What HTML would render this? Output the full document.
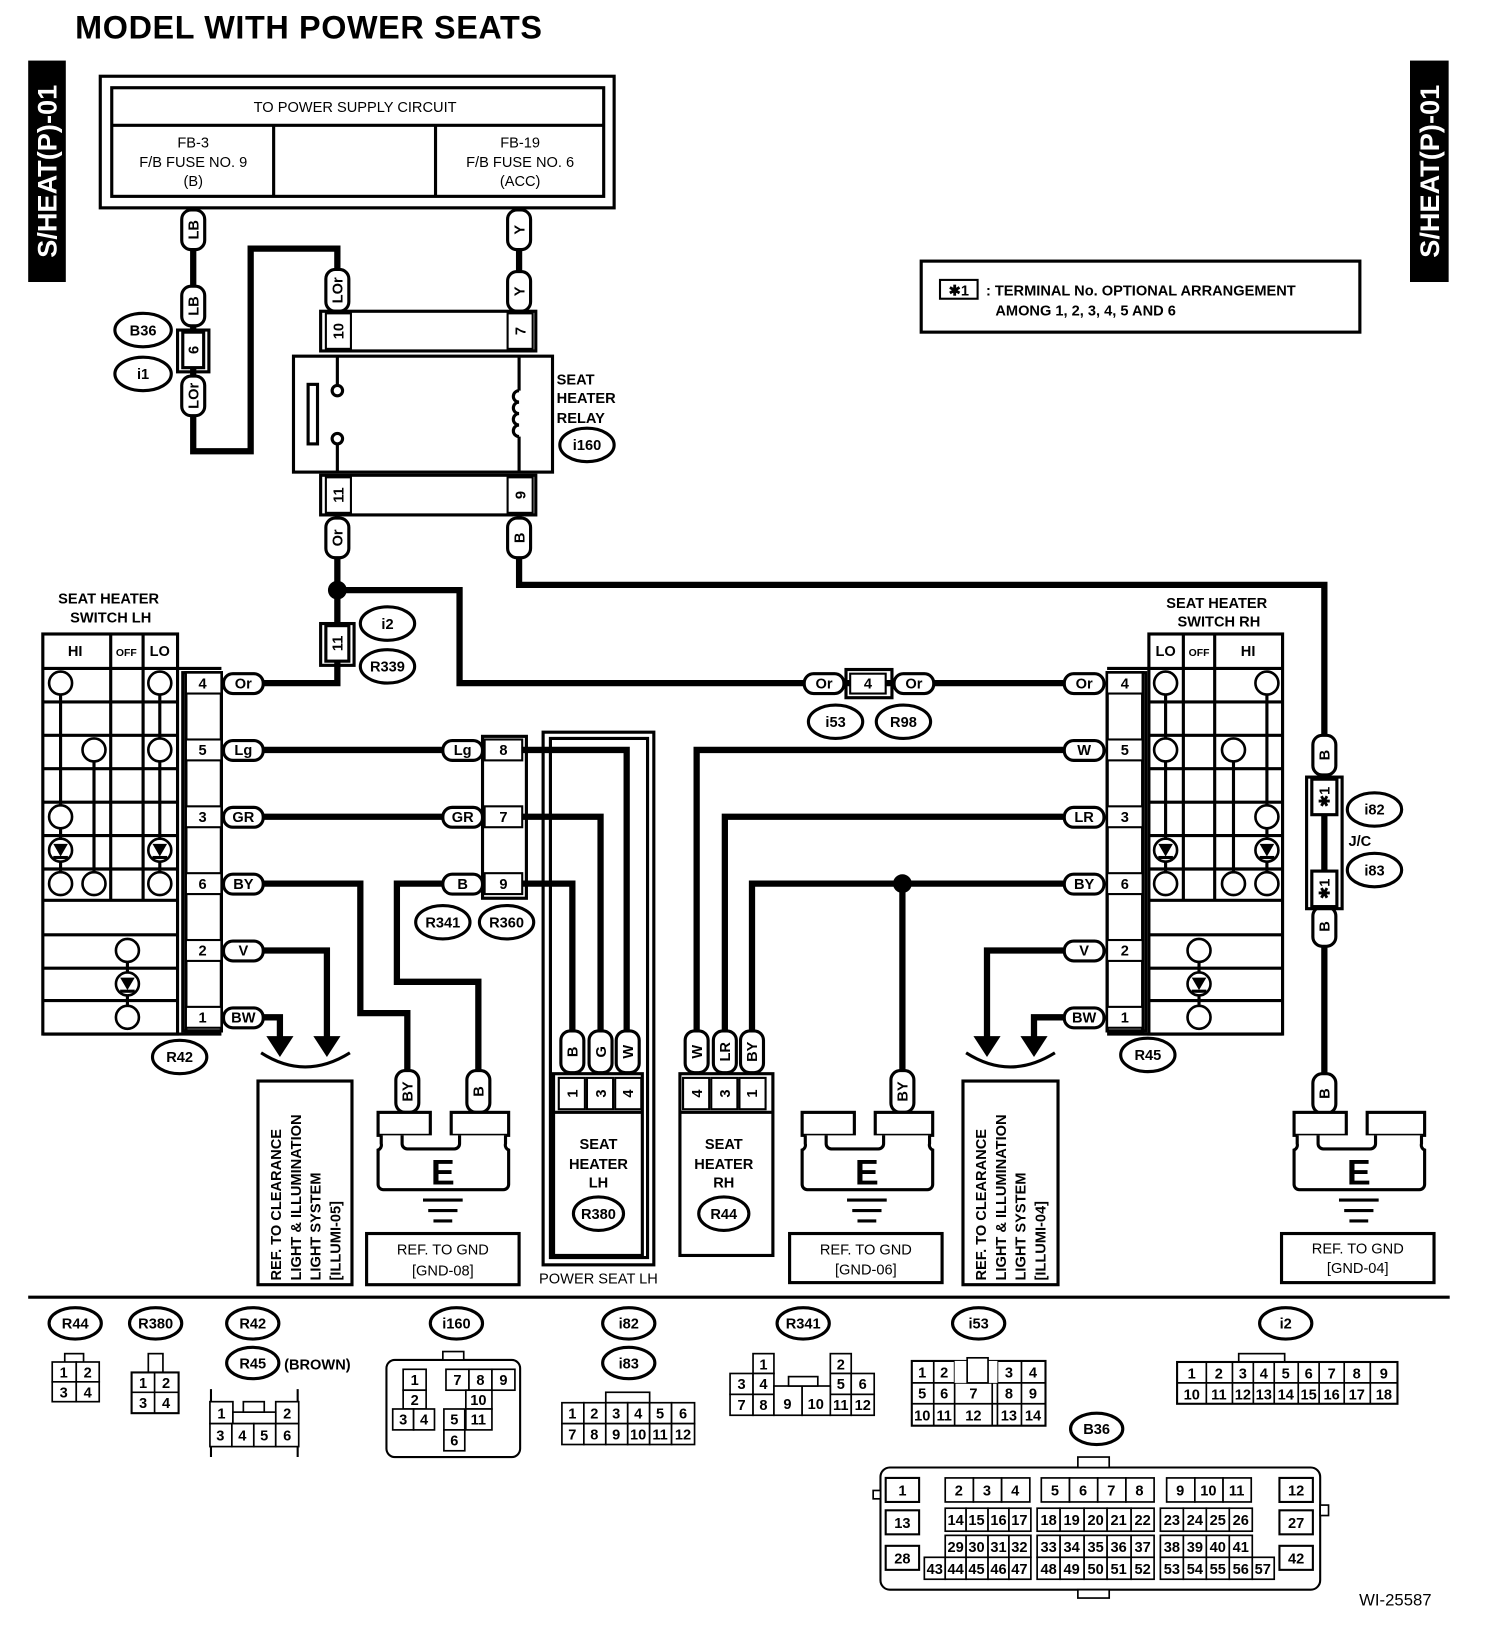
<!DOCTYPE html>
<html><head><meta charset="utf-8"><style>
html,body{margin:0;padding:0;background:#fff}
svg{display:block}
text{font-family:"Liberation Sans",sans-serif;font-weight:bold;font-size:14px;text-anchor:middle;fill:#000}
.n{font-weight:normal}
.s{font-size:13px;font-weight:normal}
.w{stroke:#000;stroke-width:6;fill:none}
.l{stroke:#000;stroke-width:3;fill:none}
.b{stroke:#000;stroke-width:3;fill:#fff}
.h{stroke:#000;stroke-width:2;fill:#fff}
.c{stroke:#000;stroke-width:1.6;fill:#fff}
</style></head><body>
<svg width="1504" height="1644" viewBox="0 0 1440 1574" preserveAspectRatio="none" xmlns="http://www.w3.org/2000/svg">
<rect width="1440" height="1574" fill="#fff"/>
<text x="72" y="37" style="font-size:31px;text-anchor:start;letter-spacing:0.6px">MODEL WITH POWER SEATS</text>
<rect x="27" y="58" width="36" height="212" fill="#000"/>
<text transform="translate(54,164) rotate(-90)" style="font-size:26px;fill:#fff">S/HEAT(P)-01</text>
<rect x="1350" y="58" width="37" height="212" fill="#000"/>
<text transform="translate(1378,164) rotate(-90)" style="font-size:26px;fill:#fff">S/HEAT(P)-01</text>

<!-- power supply -->
<rect class="l" x="96" y="73" width="492" height="126"/>
<rect class="l" x="107" y="84" width="471" height="104"/>
<line class="l" x1="107" y1="120" x2="578" y2="120"/>
<line class="l" x1="262" y1="120" x2="262" y2="188"/>
<line class="l" x1="417" y1="120" x2="417" y2="188"/>
<text x="340" y="107" class="n">TO POWER SUPPLY CIRCUIT</text>
<text x="185" y="141" class="n">FB-3</text><text x="185" y="160" class="n">F/B FUSE NO. 9</text><text x="185" y="178" class="n">(B)</text>
<text x="498" y="141" class="n">FB-19</text><text x="498" y="160" class="n">F/B FUSE NO. 6</text><text x="498" y="178" class="n">(ACC)</text>

<!-- note -->
<rect class="l" x="882" y="250" width="420" height="68"/>
<rect class="h" x="900" y="268" width="36" height="18"/>
<text x="918" y="283">✱1</text>
<text x="944" y="283" style="text-anchor:start">: TERMINAL No. OPTIONAL ARRANGEMENT</text>
<text x="953" y="302" style="text-anchor:start">AMONG 1, 2, 3, 4, 5 AND 6</text>

<!-- wires -->
<polyline class="w" points="185,200 185,432 240,432 240,238 323,238 323,260"/>
<line class="w" x1="497" y1="200" x2="497" y2="300"/>
<polyline class="w" points="323,495 323,600"/>
<polyline class="w" points="323,632 323,654 252,654"/>
<polyline class="w" points="323,565 440,565 440,654 1018,654"/>
<polyline class="w" points="497,495 497,560 1268,560 1268,1060"/>
<line class="w" x1="252" y1="718" x2="425" y2="718"/>
<line class="w" x1="252" y1="782" x2="425" y2="782"/>
<polyline class="w" points="252,846 345,846 345,970 390,970 390,1030"/>
<polyline class="w" points="425,846 380,846 380,940 458,940 458,1030"/>
<polyline class="w" points="252,910 313,910 313,995"/>
<polyline class="w" points="252,974 268,974 268,995"/>
<polyline class="w" points="500,718 600,718 600,990"/>
<polyline class="w" points="500,782 575,782 575,990"/>
<polyline class="w" points="500,846 548,846 548,990"/>
<polyline class="w" points="1018,718 667,718 667,990"/>
<polyline class="w" points="1018,782 694,782 694,990"/>
<polyline class="w" points="1018,846 720,846 720,990"/>
<line class="w" x1="864" y1="846" x2="864" y2="1030"/>
<polyline class="w" points="1018,910 945,910 945,995"/>
<polyline class="w" points="1018,974 990,974 990,995"/>
<circle cx="323" cy="565" r="9"/><circle cx="864" cy="846" r="9"/>
<polygon points="300,992 326,992 313,1012"/><polygon points="255,992 281,992 268,1012"/>
<polygon points="932,992 958,992 945,1012"/><polygon points="977,992 1003,992 990,1012"/>
<path class="l" d="M250,1008 Q292,1035 335,1008"/>
<path class="l" d="M925,1008 Q967,1035 1010,1008"/>

<!-- vertical pills -->
<g>
<rect class="b" x="174" y="201" width="22" height="38" rx="9"/><text transform="translate(185,220) rotate(-90)" dy="5">LB</text>
<rect class="b" x="174" y="274" width="22" height="38" rx="9"/><text transform="translate(185,293) rotate(-90)" dy="5">LB</text>
<rect class="b" x="174" y="360" width="22" height="38" rx="9"/><text transform="translate(185,379) rotate(-90)" dy="5">LOr</text>
<rect class="b" x="312" y="258" width="22" height="40" rx="9"/><text transform="translate(323,278) rotate(-90)" dy="5">LOr</text>
<rect class="b" x="486" y="201" width="22" height="38" rx="9"/><text transform="translate(497,220) rotate(-90)" dy="5">Y</text>
<rect class="b" x="486" y="260" width="22" height="38" rx="9"/><text transform="translate(497,279) rotate(-90)" dy="5">Y</text>
<rect class="b" x="312" y="496" width="22" height="38" rx="9"/><text transform="translate(323,515) rotate(-90)" dy="5">Or</text>
<rect class="b" x="486" y="496" width="22" height="38" rx="9"/><text transform="translate(497,515) rotate(-90)" dy="5">B</text>
<rect class="b" x="1257" y="704" width="22" height="38" rx="9"/><text transform="translate(1268,723) rotate(-90)" dy="5">B</text>
<rect class="b" x="1257" y="868" width="22" height="38" rx="9"/><text transform="translate(1268,887) rotate(-90)" dy="5">B</text>
<rect class="b" x="1257" y="1028" width="22" height="38" rx="9"/><text transform="translate(1268,1047) rotate(-90)" dy="5">B</text>
<rect class="b" x="379" y="1025" width="22" height="40" rx="9"/><text transform="translate(390,1045) rotate(-90)" dy="5">BY</text>
<rect class="b" x="447" y="1025" width="22" height="40" rx="9"/><text transform="translate(458,1045) rotate(-90)" dy="5">B</text>
<rect class="b" x="853" y="1025" width="22" height="40" rx="9"/><text transform="translate(864,1045) rotate(-90)" dy="5">BY</text>
<rect class="b" x="537" y="987" width="22" height="40" rx="9"/><text transform="translate(548,1007) rotate(-90)" dy="5">B</text>
<rect class="b" x="564" y="987" width="22" height="40" rx="9"/><text transform="translate(575,1007) rotate(-90)" dy="5">G</text>
<rect class="b" x="590" y="987" width="22" height="40" rx="9"/><text transform="translate(601,1007) rotate(-90)" dy="5">W</text>
<rect class="b" x="656" y="987" width="22" height="40" rx="9"/><text transform="translate(667,1007) rotate(-90)" dy="5">W</text>
<rect class="b" x="683" y="987" width="22" height="40" rx="9"/><text transform="translate(694,1007) rotate(-90)" dy="5">LR</text>
<rect class="b" x="709" y="987" width="22" height="40" rx="9"/><text transform="translate(720,1007) rotate(-90)" dy="5">BY</text>
</g>
<rect class="l" x="170" y="316" width="30" height="40"/>
<rect class="b" x="175" y="318" width="20" height="34"/><text transform="translate(185,335) rotate(-90)" dy="5">6</text>
<rect class="l" x="307" y="597" width="32" height="40"/>
<rect class="b" x="312" y="599" width="22" height="34"/><text transform="translate(323,616) rotate(-90)" dy="5">11</text>
<rect class="l" x="1251" y="744" width="34" height="126"/>
<rect class="b" x="1256" y="746" width="24" height="34"/><text transform="translate(1268,763) rotate(-90)" dy="5">✱1</text>
<rect class="b" x="1256" y="834" width="24" height="34"/><text transform="translate(1268,851) rotate(-90)" dy="5">✱1</text>
<line class="l" x1="1268" y1="780" x2="1268" y2="834"/>
<text x="1302" y="810">J/C</text>

<!-- relay -->
<rect class="l" x="307" y="298" width="206" height="38"/>
<rect class="h" x="312" y="300" width="24" height="34"/><text transform="translate(324,317) rotate(-90)" dy="5">10</text>
<rect class="h" x="486" y="300" width="24" height="34"/><text transform="translate(498,317) rotate(-90)" dy="5">7</text>
<rect class="l" x="281" y="341" width="248" height="111"/>
<rect class="l" x="295" y="368" width="9" height="57"/>
<line class="l" x1="323" y1="341" x2="323" y2="368"/><circle class="b" cx="323" cy="374" r="5"/>
<line class="l" x1="323" y1="426" x2="323" y2="452"/><circle class="b" cx="323" cy="420" r="5"/>
<line class="l" x1="497" y1="341" x2="497" y2="374"/><line class="l" x1="497" y1="418" x2="497" y2="452"/>
<path class="l" d="M497,374 a5,5 0 1,0 0,11 a5,5 0 1,0 0,11 a5,5 0 1,0 0,11 a5,5 0 1,0 0,11"/>
<rect class="l" x="307" y="455" width="206" height="38"/>
<rect class="h" x="312" y="457" width="24" height="34"/><text transform="translate(324,474) rotate(-90)" dy="5">11</text>
<rect class="h" x="486" y="457" width="24" height="34"/><text transform="translate(498,474) rotate(-90)" dy="5">9</text>
<text x="533" y="368" style="text-anchor:start">SEAT</text><text x="533" y="386" style="text-anchor:start">HEATER</text><text x="533" y="405" style="text-anchor:start">RELAY</text>

<!-- ovals -->
<g class="n">
<ellipse class="b" cx="137" cy="316" rx="27" ry="16"/><text x="137" y="321">B36</text>
<ellipse class="b" cx="137" cy="358" rx="27" ry="16"/><text x="137" y="363">i1</text>
<ellipse class="b" cx="562" cy="426" rx="26" ry="16"/><text x="562" y="431">i160</text>
<ellipse class="b" cx="371" cy="597" rx="26" ry="16"/><text x="371" y="602">i2</text>
<ellipse class="b" cx="371" cy="638" rx="26" ry="16"/><text x="371" y="643">R339</text>
<ellipse class="b" cx="800" cy="691" rx="26" ry="16"/><text x="800" y="696">i53</text>
<ellipse class="b" cx="865" cy="691" rx="26" ry="16"/><text x="865" y="696">R98</text>
<ellipse class="b" cx="424" cy="883" rx="26" ry="16"/><text x="424" y="888">R341</text>
<ellipse class="b" cx="485" cy="883" rx="26" ry="16"/><text x="485" y="888">R360</text>
<ellipse class="b" cx="172" cy="1012" rx="26" ry="16"/><text x="172" y="1017">R42</text>
<ellipse class="b" cx="1099" cy="1010" rx="26" ry="16"/><text x="1099" y="1015">R45</text>
<ellipse class="b" cx="1316" cy="775" rx="26" ry="16"/><text x="1316" y="780">i82</text>
<ellipse class="b" cx="1316" cy="833" rx="26" ry="16"/><text x="1316" y="838">i83</text>
<ellipse class="b" cx="573" cy="1162" rx="24" ry="16"/><text x="573" y="1167">R380</text>
<ellipse class="b" cx="693" cy="1162" rx="24" ry="16"/><text x="693" y="1167">R44</text>
</g>

<!-- horizontal pills -->
<g>
<rect class="b" x="770" y="645" width="38" height="19" rx="9"/><text x="789" y="659">Or</text>
<rect class="l" x="810" y="641" width="44" height="27"/><rect class="h" x="814" y="645" width="34" height="19"/><text x="831" y="659">4</text>
<rect class="b" x="856" y="645" width="38" height="19" rx="9"/><text x="875" y="659">Or</text>
<rect class="b" x="1019" y="645" width="38" height="19" rx="9"/><text x="1038" y="659">Or</text>
<rect class="b" x="1019" y="709" width="38" height="19" rx="9"/><text x="1038" y="723">W</text>
<rect class="b" x="1019" y="773" width="38" height="19" rx="9"/><text x="1038" y="787">LR</text>
<rect class="b" x="1019" y="837" width="38" height="19" rx="9"/><text x="1038" y="851">BY</text>
<rect class="b" x="1019" y="901" width="38" height="19" rx="9"/><text x="1038" y="915">V</text>
<rect class="b" x="1019" y="965" width="38" height="19" rx="9"/><text x="1038" y="979">BW</text>
<rect class="b" x="214" y="645" width="38" height="19" rx="9"/><text x="233" y="659">Or</text>
<rect class="b" x="214" y="709" width="38" height="19" rx="9"/><text x="233" y="723">Lg</text>
<rect class="b" x="214" y="773" width="38" height="19" rx="9"/><text x="233" y="787">GR</text>
<rect class="b" x="214" y="837" width="38" height="19" rx="9"/><text x="233" y="851">BY</text>
<rect class="b" x="214" y="901" width="38" height="19" rx="9"/><text x="233" y="915">V</text>
<rect class="b" x="214" y="965" width="38" height="19" rx="9"/><text x="233" y="979">BW</text>
<rect class="b" x="424" y="709" width="38" height="19" rx="9"/><text x="443" y="723">Lg</text>
<rect class="b" x="424" y="773" width="38" height="19" rx="9"/><text x="443" y="787">GR</text>
<rect class="b" x="424" y="837" width="38" height="19" rx="9"/><text x="443" y="851">B</text>
</g>
<rect class="l" x="462" y="705" width="42" height="155"/>
<rect class="h" x="464" y="708" width="36" height="20"/><text x="482" y="723">8</text>
<rect class="h" x="464" y="772" width="36" height="20"/><text x="482" y="787">7</text>
<rect class="h" x="464" y="836" width="36" height="20"/><text x="482" y="851">9</text>

<!-- switch LH -->
<text x="104" y="578">SEAT HEATER</text><text x="106" y="596">SWITCH LH</text>
<g class="l">
<rect x="41" y="607" width="129" height="383"/>
<line x1="41" y1="640" x2="212" y2="640"/><line x1="41" y1="990" x2="212" y2="990"/>
<line x1="41" y1="672" x2="170" y2="672"/><line x1="41" y1="704" x2="170" y2="704"/><line x1="41" y1="736" x2="170" y2="736"/><line x1="41" y1="768" x2="170" y2="768"/><line x1="41" y1="800" x2="170" y2="800"/><line x1="41" y1="832" x2="170" y2="832"/><line x1="41" y1="862" x2="170" y2="862"/><line x1="41" y1="895" x2="170" y2="895"/><line x1="41" y1="927" x2="170" y2="927"/><line x1="41" y1="958" x2="170" y2="958"/>
<line x1="106" y1="607" x2="106" y2="862"/><line x1="137" y1="607" x2="137" y2="862"/>
<rect x="175" y="644" width="37" height="343"/><rect x="178" y="644" width="34" height="343"/>
<line x1="58" y1="654" x2="58" y2="846"/><line x1="90" y1="718" x2="90" y2="846"/><line x1="153" y1="654" x2="153" y2="846"/><line x1="122" y1="910" x2="122" y2="974"/>
</g>
<text x="72" y="628">HI</text><text x="121" y="628" style="font-size:10px">OFF</text><text x="153" y="628">LO</text>
<g class="h">
<rect x="178" y="644" width="34" height="20"/><rect x="178" y="708" width="34" height="20"/><rect x="178" y="772" width="34" height="20"/><rect x="178" y="836" width="34" height="20"/><rect x="178" y="900" width="34" height="20"/><rect x="178" y="964" width="34" height="20"/>
</g>
<text x="194" y="659">4</text><text x="194" y="723">5</text><text x="194" y="787">3</text><text x="194" y="851">6</text><text x="194" y="915">2</text><text x="194" y="979">1</text>
<g class="b" style="stroke-width:2.5">
<circle cx="58" cy="654" r="11"/><circle cx="153" cy="654" r="11"/><circle cx="90" cy="718" r="11"/><circle cx="153" cy="718" r="11"/><circle cx="58" cy="782" r="11"/><circle cx="58" cy="814" r="11"/><circle cx="153" cy="814" r="11"/><circle cx="58" cy="846" r="11"/><circle cx="90" cy="846" r="11"/><circle cx="153" cy="846" r="11"/><circle cx="122" cy="910" r="11"/><circle cx="122" cy="942" r="11"/><circle cx="122" cy="974" r="11"/>
</g>
<polygon points="51,808 65,808 58,820"/><polygon points="146,808 160,808 153,820"/><polygon points="115,936 129,936 122,948"/>
<g class="l"><line x1="51" y1="821" x2="65" y2="821"/><line x1="146" y1="821" x2="160" y2="821"/><line x1="115" y1="949" x2="129" y2="949"/></g>

<!-- switch RH -->
<text x="1165" y="582">SEAT HEATER</text><text x="1167" y="600">SWITCH RH</text>
<g class="l">
<rect x="1100" y="607" width="128" height="383"/>
<line x1="1060" y1="640" x2="1228" y2="640"/><line x1="1060" y1="990" x2="1228" y2="990"/>
<line x1="1100" y1="672" x2="1228" y2="672"/><line x1="1100" y1="704" x2="1228" y2="704"/><line x1="1100" y1="736" x2="1228" y2="736"/><line x1="1100" y1="768" x2="1228" y2="768"/><line x1="1100" y1="800" x2="1228" y2="800"/><line x1="1100" y1="832" x2="1228" y2="832"/><line x1="1100" y1="862" x2="1228" y2="862"/><line x1="1100" y1="895" x2="1228" y2="895"/><line x1="1100" y1="927" x2="1228" y2="927"/><line x1="1100" y1="958" x2="1228" y2="958"/>
<line x1="1133" y1="607" x2="1133" y2="862"/><line x1="1163" y1="607" x2="1163" y2="862"/>
<rect x="1060" y="644" width="37" height="343"/><rect x="1060" y="644" width="34" height="343"/>
<line x1="1116" y1="654" x2="1116" y2="846"/><line x1="1181" y1="718" x2="1181" y2="846"/><line x1="1213" y1="654" x2="1213" y2="846"/><line x1="1148" y1="910" x2="1148" y2="974"/>
</g>
<text x="1116" y="628">LO</text><text x="1148" y="628" style="font-size:10px">OFF</text><text x="1195" y="628">HI</text>
<g class="h">
<rect x="1060" y="644" width="34" height="20"/><rect x="1060" y="708" width="34" height="20"/><rect x="1060" y="772" width="34" height="20"/><rect x="1060" y="836" width="34" height="20"/><rect x="1060" y="900" width="34" height="20"/><rect x="1060" y="964" width="34" height="20"/>
</g>
<text x="1077" y="659">4</text><text x="1077" y="723">5</text><text x="1077" y="787">3</text><text x="1077" y="851">6</text><text x="1077" y="915">2</text><text x="1077" y="979">1</text>
<g class="b" style="stroke-width:2.5">
<circle cx="1116" cy="654" r="11"/><circle cx="1213" cy="654" r="11"/><circle cx="1116" cy="718" r="11"/><circle cx="1181" cy="718" r="11"/><circle cx="1213" cy="782" r="11"/><circle cx="1116" cy="814" r="11"/><circle cx="1213" cy="814" r="11"/><circle cx="1116" cy="846" r="11"/><circle cx="1181" cy="846" r="11"/><circle cx="1213" cy="846" r="11"/><circle cx="1148" cy="910" r="11"/><circle cx="1148" cy="942" r="11"/><circle cx="1148" cy="974" r="11"/>
</g>
<polygon points="1109,808 1123,808 1116,820"/><polygon points="1206,808 1220,808 1213,820"/><polygon points="1141,936 1155,936 1148,948"/>
<g class="l"><line x1="1109" y1="821" x2="1123" y2="821"/><line x1="1206" y1="821" x2="1220" y2="821"/><line x1="1141" y1="949" x2="1155" y2="949"/></g>

<!-- power seat / heaters -->
<rect class="l" x="520" y="701" width="106" height="510"/>
<rect class="l" x="527" y="707" width="93" height="497"/>
<rect class="l" x="530" y="1028" width="85" height="174"/>
<g class="h"><rect x="535" y="1032" width="25" height="30"/><rect x="562" y="1032" width="25" height="30"/><rect x="589" y="1032" width="25" height="30"/>
<rect x="654" y="1032" width="25" height="30"/><rect x="681" y="1032" width="25" height="30"/><rect x="708" y="1032" width="25" height="30"/></g>
<line class="l" x1="530" y1="1065" x2="615" y2="1065"/>
<text transform="translate(548,1047) rotate(-90)" dy="5">1</text><text transform="translate(575,1047) rotate(-90)" dy="5">3</text><text transform="translate(601,1047) rotate(-90)" dy="5">4</text>
<text x="573" y="1100">SEAT</text><text x="573" y="1119">HEATER</text><text x="573" y="1137">LH</text>
<text x="573" y="1229" class="n">POWER SEAT LH</text>
<rect class="l" x="651" y="1028" width="89" height="174"/>
<line class="l" x1="651" y1="1065" x2="740" y2="1065"/>
<text transform="translate(667,1047) rotate(-90)" dy="5">4</text><text transform="translate(694,1047) rotate(-90)" dy="5">3</text><text transform="translate(720,1047) rotate(-90)" dy="5">1</text>
<text x="693" y="1100">SEAT</text><text x="693" y="1119">HEATER</text><text x="693" y="1137">RH</text>

<!-- grounds -->
<g id="gnd">
<rect class="b" x="362" y="1065" width="50" height="22"/><rect class="b" x="432" y="1065" width="55" height="22"/>
<path class="b" d="M365,1087 v8 a5,5 0 0,1 -3,6 v33 a5,5 0 0,0 5,5 h115 a5,5 0 0,0 5,-5 v-33 a5,5 0 0,1 -3,-6 v-8 M385,1087 v8 a5,5 0 0,0 5,5 h45 a5,5 0 0,0 5,-5 v-8"/>
<text x="424" y="1134" style="font-size:34px">E</text>
<line class="l" x1="405" y1="1149" x2="443" y2="1149"/><line class="l" x1="410" y1="1159" x2="438" y2="1159"/><line class="l" x1="415" y1="1169" x2="433" y2="1169"/>
</g>
<use href="#gnd" x="406"/>
<use href="#gnd" x="877"/>
<g class="l"><rect x="351" y="1181" width="146" height="49"/><rect x="756" y="1181" width="146" height="47"/><rect x="1227" y="1181" width="146" height="47"/>
<rect x="247" y="1035" width="90" height="195"/><rect x="922" y="1035" width="91" height="195"/></g>
<text x="424" y="1201" class="n">REF. TO GND</text><text x="424" y="1221" class="n">[GND-08]</text>
<text x="829" y="1201" class="n">REF. TO GND</text><text x="829" y="1220" class="n">[GND-06]</text>
<text x="1300" y="1200" class="n">REF. TO GND</text><text x="1300" y="1219" class="n">[GND-04]</text>
<g class="n" style="text-anchor:start">
<text transform="translate(269,1226) rotate(-90)" style="text-anchor:start">REF. TO CLEARANCE</text>
<text transform="translate(288,1226) rotate(-90)" style="text-anchor:start">LIGHT &amp; ILLUMINATION</text>
<text transform="translate(307,1226) rotate(-90)" style="text-anchor:start">LIGHT SYSTEM</text>
<text transform="translate(326,1226) rotate(-90)" style="text-anchor:start">[ILLUMI-05]</text>
<text transform="translate(944,1226) rotate(-90)" style="text-anchor:start">REF. TO CLEARANCE</text>
<text transform="translate(963,1226) rotate(-90)" style="text-anchor:start">LIGHT &amp; ILLUMINATION</text>
<text transform="translate(982,1226) rotate(-90)" style="text-anchor:start">LIGHT SYSTEM</text>
<text transform="translate(1001,1226) rotate(-90)" style="text-anchor:start">[ILLUMI-04]</text>
</g>

<line x1="27" y1="1242" x2="1388" y2="1242" stroke="#000" stroke-width="3"/>

<!-- bottom connectors -->
<g class="n">
<ellipse class="b" cx="72" cy="1267" rx="25" ry="15"/><text x="72" y="1272">R44</text>
<ellipse class="b" cx="149" cy="1267" rx="25" ry="15"/><text x="149" y="1272">R380</text>
<ellipse class="b" cx="242" cy="1267" rx="25" ry="15"/><text x="242" y="1272">R42</text>
<ellipse class="b" cx="242" cy="1305" rx="25" ry="15"/><text x="242" y="1310">R45</text>
<text x="272" y="1311" style="text-anchor:start">(BROWN)</text>
<ellipse class="b" cx="437" cy="1267" rx="25" ry="15"/><text x="437" y="1272">i160</text>
<ellipse class="b" cx="602" cy="1267" rx="25" ry="15"/><text x="602" y="1272">i82</text>
<ellipse class="b" cx="602" cy="1305" rx="25" ry="15"/><text x="602" y="1310">i83</text>
<ellipse class="b" cx="769" cy="1267" rx="25" ry="15"/><text x="769" y="1272">R341</text>
<ellipse class="b" cx="937" cy="1267" rx="25" ry="15"/><text x="937" y="1272">i53</text>
<ellipse class="b" cx="1231" cy="1267" rx="25" ry="15"/><text x="1231" y="1272">i2</text>
<ellipse class="b" cx="1050" cy="1368" rx="25" ry="15"/><text x="1050" y="1373">B36</text>
</g>
<g class="s">
<rect class="c" x="62" y="1296" width="18" height="9"/>
<rect class="c" x="50" y="1304" width="23" height="19"/><rect class="c" x="73" y="1304" width="22" height="19"/><rect class="c" x="50" y="1323" width="23" height="19"/><rect class="c" x="73" y="1323" width="22" height="19"/>
<text x="61" y="1319">1</text><text x="84" y="1319">2</text><text x="61" y="1338">3</text><text x="84" y="1338">4</text>
<rect class="c" x="142" y="1296" width="14" height="18"/>
<rect class="h" x="126" y="1314" width="45" height="39"/><line class="c" x1="148" y1="1314" x2="148" y2="1353"/><line class="c" x1="126" y1="1333" x2="171" y2="1333"/>
<text x="137" y="1329">1</text><text x="159" y="1329">2</text><text x="137" y="1348">3</text><text x="159" y="1348">4</text>
<line class="h" x1="202" y1="1330" x2="202" y2="1395"/><line class="h" x1="285" y1="1330" x2="285" y2="1395"/>
<rect class="c" x="201" y="1342" width="22" height="21"/><rect class="c" x="264" y="1342" width="22" height="21"/>
<rect class="c" x="223" y="1352" width="41" height="11"/><rect class="c" x="233" y="1342" width="20" height="10"/>
<rect class="c" x="201" y="1363" width="21" height="22"/><rect class="c" x="222" y="1363" width="21" height="22"/><rect class="c" x="243" y="1363" width="21" height="22"/><rect class="c" x="264" y="1363" width="22" height="22"/>
<text x="212" y="1358">1</text><text x="275" y="1358">2</text><text x="211" y="1379">3</text><text x="232" y="1379">4</text><text x="253" y="1379">5</text><text x="275" y="1379">6</text>
<rect class="h" x="370" y="1302" width="128" height="93" rx="8"/>
<rect class="c" x="424" y="1294" width="20" height="8"/>
<rect class="c" x="386" y="1311" width="22" height="20"/><rect class="c" x="386" y="1331" width="22" height="18"/>
<rect class="c" x="376" y="1349" width="20" height="20"/><rect class="c" x="396" y="1349" width="20" height="20"/>
<rect class="c" x="425" y="1349" width="20" height="20"/><rect class="c" x="425" y="1369" width="20" height="20"/>
<rect class="c" x="427" y="1311" width="22" height="20"/><rect class="c" x="449" y="1311" width="22" height="20"/><rect class="c" x="471" y="1311" width="22" height="20"/>
<rect class="c" x="446" y="1331" width="25" height="18"/><rect class="c" x="446" y="1349" width="25" height="20"/>
<text x="397" y="1326">1</text><text x="397" y="1345">2</text><text x="386" y="1364">3</text><text x="406" y="1364">4</text><text x="435" y="1364">5</text><text x="435" y="1384">6</text>
<text x="438" y="1326">7</text><text x="460" y="1326">8</text><text x="482" y="1326">9</text><text x="458" y="1345">10</text><text x="458" y="1364">11</text>
<rect class="c" x="580" y="1333" width="42" height="10"/>
<g><rect class="c" x="538" y="1343" width="21" height="20"/><rect class="c" x="559" y="1343" width="21" height="20"/><rect class="c" x="580" y="1343" width="21" height="20"/><rect class="c" x="601" y="1343" width="21" height="20"/><rect class="c" x="622" y="1343" width="21" height="20"/><rect class="c" x="643" y="1343" width="22" height="20"/>
<rect class="c" x="538" y="1363" width="21" height="20"/><rect class="c" x="559" y="1363" width="21" height="20"/><rect class="c" x="580" y="1363" width="21" height="20"/><rect class="c" x="601" y="1363" width="21" height="20"/><rect class="c" x="622" y="1363" width="21" height="20"/><rect class="c" x="643" y="1363" width="22" height="20"/></g>
<text x="548" y="1358">1</text><text x="569" y="1358">2</text><text x="590" y="1358">3</text><text x="611" y="1358">4</text><text x="632" y="1358">5</text><text x="654" y="1358">6</text>
<text x="548" y="1378">7</text><text x="569" y="1378">8</text><text x="590" y="1378">9</text><text x="611" y="1378">10</text><text x="632" y="1378">11</text><text x="654" y="1378">12</text>
<rect class="c" x="721" y="1296" width="20" height="19"/><rect class="c" x="795" y="1296" width="20" height="19"/>
<rect class="c" x="699" y="1315" width="22" height="20"/><rect class="c" x="721" y="1315" width="20" height="20"/><rect class="c" x="795" y="1315" width="20" height="20"/><rect class="c" x="815" y="1315" width="22" height="20"/>
<rect class="c" x="699" y="1335" width="22" height="20"/><rect class="c" x="721" y="1335" width="20" height="20"/><rect class="c" x="741" y="1327" width="27" height="28"/><rect class="c" x="768" y="1327" width="27" height="28"/><rect class="c" x="795" y="1335" width="20" height="20"/><rect class="c" x="815" y="1335" width="22" height="20"/>
<rect class="c" x="755" y="1318" width="28" height="9"/>
<text x="731" y="1311">1</text><text x="805" y="1311">2</text><text x="710" y="1330">3</text><text x="731" y="1330">4</text><text x="805" y="1330">5</text><text x="826" y="1330">6</text>
<text x="710" y="1350">7</text><text x="731" y="1350">8</text><text x="754" y="1349">9</text><text x="781" y="1349">10</text><text x="805" y="1350">11</text><text x="826" y="1350">12</text>
<rect class="h" x="873" y="1303" width="128" height="62"/>
<g fill="none" stroke="#000" stroke-width="1.6">
<line x1="873" y1="1324" x2="1001" y2="1324"/><line x1="873" y1="1344" x2="1001" y2="1344"/>
<line x1="894" y1="1303" x2="894" y2="1365"/><line x1="914" y1="1303" x2="914" y2="1365"/><line x1="950" y1="1324" x2="950" y2="1365"/><line x1="955" y1="1303" x2="955" y2="1365"/><line x1="978" y1="1303" x2="978" y2="1365"/></g>
<rect x="914" y="1303" width="41" height="21" fill="#fff"/><rect class="c" x="926" y="1300" width="20" height="24"/>
<text x="883" y="1319">1</text><text x="904" y="1319">2</text><text x="966" y="1319">3</text><text x="989" y="1319">4</text>
<text x="883" y="1339">5</text><text x="904" y="1339">6</text><text x="932" y="1339">7</text><text x="966" y="1339">8</text><text x="989" y="1339">9</text>
<text x="883" y="1360">10</text><text x="904" y="1360">11</text><text x="932" y="1360">12</text><text x="966" y="1360">13</text><text x="989" y="1360">14</text>
<rect class="c" x="1186" y="1296" width="44" height="8"/>
<rect class="h" x="1127" y="1304" width="211" height="40"/>
<g fill="none" stroke="#000" stroke-width="1.6"><line x1="1127" y1="1324" x2="1338" y2="1324"/>
<line x1="1155" y1="1304" x2="1155" y2="1344"/><line x1="1180" y1="1304" x2="1180" y2="1344"/><line x1="1200" y1="1304" x2="1200" y2="1344"/><line x1="1220" y1="1304" x2="1220" y2="1344"/><line x1="1243" y1="1304" x2="1243" y2="1344"/><line x1="1263" y1="1304" x2="1263" y2="1344"/><line x1="1287" y1="1304" x2="1287" y2="1344"/><line x1="1312" y1="1304" x2="1312" y2="1344"/></g>
<text x="1141" y="1320">1</text><text x="1167" y="1320">2</text><text x="1190" y="1320">3</text><text x="1210" y="1320">4</text><text x="1231" y="1320">5</text><text x="1253" y="1320">6</text><text x="1275" y="1320">7</text><text x="1299" y="1320">8</text><text x="1325" y="1320">9</text>
<text x="1141" y="1340">10</text><text x="1167" y="1340">11</text><text x="1190" y="1340">12</text><text x="1210" y="1340">13</text><text x="1231" y="1340">14</text><text x="1253" y="1340">15</text><text x="1275" y="1340">16</text><text x="1299" y="1340">17</text><text x="1325" y="1340">18</text>
<rect class="h" x="843" y="1405" width="421" height="117" rx="9"/>
<rect class="c" x="1032" y="1395" width="30" height="10"/><rect class="c" x="1032" y="1522" width="30" height="8"/>
<rect class="c" x="836" y="1427" width="7" height="8"/><rect class="c" x="1264" y="1441" width="8" height="10"/>
<g style="font-size:13px">
<rect class="h" x="848" y="1415" width="32" height="23"/><text x="864" y="1432">1</text>
<rect class="h" x="848" y="1446" width="32" height="23"/><text x="864" y="1463">13</text>
<rect class="h" x="848" y="1480" width="32" height="23"/><text x="864" y="1497">28</text>
<rect class="h" x="1225" y="1415" width="32" height="23"/><text x="1241" y="1432">12</text>
<rect class="h" x="1225" y="1446" width="32" height="23"/><text x="1241" y="1463">27</text>
<rect class="h" x="1225" y="1480" width="32" height="23"/><text x="1241" y="1497">42</text>
<rect class="c" x="905" y="1415" width="27" height="23"/><rect class="c" x="932" y="1415" width="27" height="23"/><rect class="c" x="959" y="1415" width="27" height="23"/>
<text x="918" y="1432">2</text><text x="945" y="1432">3</text><text x="972" y="1432">4</text>
<rect class="c" x="997" y="1415" width="27" height="23"/><rect class="c" x="1024" y="1415" width="27" height="23"/><rect class="c" x="1051" y="1415" width="27" height="23"/><rect class="c" x="1078" y="1415" width="27" height="23"/>
<text x="1010" y="1432">5</text><text x="1037" y="1432">6</text><text x="1064" y="1432">7</text><text x="1091" y="1432">8</text>
<rect class="c" x="1117" y="1415" width="27" height="23"/><rect class="c" x="1144" y="1415" width="27" height="23"/><rect class="c" x="1171" y="1415" width="27" height="23"/>
<text x="1130" y="1432">9</text><text x="1157" y="1432">10</text><text x="1184" y="1432">11</text>
<rect class="c" x="905" y="1444" width="20" height="22"/><rect class="c" x="925" y="1444" width="21" height="22"/><rect class="c" x="946" y="1444" width="20" height="22"/><rect class="c" x="966" y="1444" width="21" height="22"/>
<text x="915" y="1460">14</text><text x="935" y="1460">15</text><text x="956" y="1460">16</text><text x="976" y="1460">17</text>
<rect class="c" x="993" y="1444" width="22" height="22"/><rect class="c" x="1015" y="1444" width="23" height="22"/><rect class="c" x="1038" y="1444" width="22" height="22"/><rect class="c" x="1060" y="1444" width="23" height="22"/><rect class="c" x="1083" y="1444" width="22" height="22"/>
<text x="1004" y="1460">18</text><text x="1026" y="1460">19</text><text x="1049" y="1460">20</text><text x="1071" y="1460">21</text><text x="1094" y="1460">22</text>
<rect class="c" x="1111" y="1444" width="22" height="22"/><rect class="c" x="1133" y="1444" width="22" height="22"/><rect class="c" x="1155" y="1444" width="22" height="22"/><rect class="c" x="1177" y="1444" width="22" height="22"/>
<text x="1122" y="1460">23</text><text x="1144" y="1460">24</text><text x="1166" y="1460">25</text><text x="1188" y="1460">26</text>
<rect class="c" x="905" y="1470" width="20" height="21"/><rect class="c" x="925" y="1470" width="21" height="21"/><rect class="c" x="946" y="1470" width="20" height="21"/><rect class="c" x="966" y="1470" width="21" height="21"/>
<text x="915" y="1486">29</text><text x="935" y="1486">30</text><text x="956" y="1486">31</text><text x="976" y="1486">32</text>
<rect class="c" x="993" y="1470" width="22" height="21"/><rect class="c" x="1015" y="1470" width="23" height="21"/><rect class="c" x="1038" y="1470" width="22" height="21"/><rect class="c" x="1060" y="1470" width="23" height="21"/><rect class="c" x="1083" y="1470" width="22" height="21"/>
<text x="1004" y="1486">33</text><text x="1026" y="1486">34</text><text x="1049" y="1486">35</text><text x="1071" y="1486">36</text><text x="1094" y="1486">37</text>
<rect class="c" x="1111" y="1470" width="22" height="21"/><rect class="c" x="1133" y="1470" width="22" height="21"/><rect class="c" x="1155" y="1470" width="22" height="21"/><rect class="c" x="1177" y="1470" width="22" height="21"/>
<text x="1122" y="1486">38</text><text x="1144" y="1486">39</text><text x="1166" y="1486">40</text><text x="1188" y="1486">41</text>
<rect class="c" x="885" y="1491" width="20" height="21"/><rect class="c" x="905" y="1491" width="20" height="21"/><rect class="c" x="925" y="1491" width="21" height="21"/><rect class="c" x="946" y="1491" width="20" height="21"/><rect class="c" x="966" y="1491" width="21" height="21"/>
<text x="895" y="1507">43</text><text x="915" y="1507">44</text><text x="935" y="1507">45</text><text x="956" y="1507">46</text><text x="976" y="1507">47</text>
<rect class="c" x="993" y="1491" width="22" height="21"/><rect class="c" x="1015" y="1491" width="23" height="21"/><rect class="c" x="1038" y="1491" width="22" height="21"/><rect class="c" x="1060" y="1491" width="23" height="21"/><rect class="c" x="1083" y="1491" width="22" height="21"/>
<text x="1004" y="1507">48</text><text x="1026" y="1507">49</text><text x="1049" y="1507">50</text><text x="1071" y="1507">51</text><text x="1094" y="1507">52</text>
<rect class="c" x="1111" y="1491" width="22" height="21"/><rect class="c" x="1133" y="1491" width="22" height="21"/><rect class="c" x="1155" y="1491" width="22" height="21"/><rect class="c" x="1177" y="1491" width="22" height="21"/><rect class="c" x="1199" y="1491" width="21" height="21"/>
<text x="1122" y="1507">53</text><text x="1144" y="1507">54</text><text x="1166" y="1507">55</text><text x="1188" y="1507">56</text><text x="1209" y="1507">57</text>
</g>
</g>
<text x="1336" y="1537" class="n" style="font-size:16px">WI-25587</text>
</svg>
</body></html>
